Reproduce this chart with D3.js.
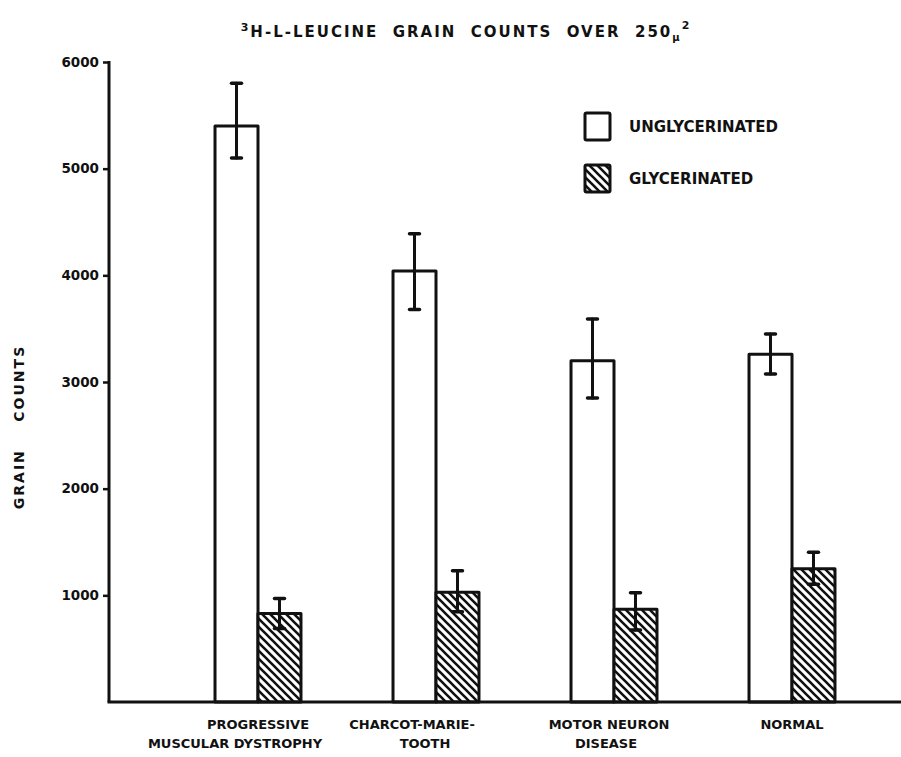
<!DOCTYPE html>
<html>
<head>
<meta charset="utf-8">
<script src="https://cdn.jsdelivr.net/npm/d3@7"></script>
<style>
  html, body { margin: 0; padding: 0; background: #fff; }
  svg { display: block; }
  text { font-family: "DejaVu Sans", sans-serif; font-weight: bold; fill: #111; }
</style>
</head>
<body>
<svg id="chart" width="901" height="757"></svg>
<script>
// Leucine grain counts by diagnosis, with and without glycerination
const categories = ["PMD", "CMT", "MND", "NORMAL"];
const categoryLines = [
  ["PROGRESSIVE", "MUSCULAR DYSTROPHY"],
  ["CHARCOT-MARIE-", "TOOTH"],
  ["MOTOR NEURON", "DISEASE"],
  ["NORMAL"]
];
const series = ["UNGLYCERINATED", "GLYCERINATED"];
const unglycerinated = [5400, 4040, 3200, 3260];
const unglycerinatedHigh = [5800, 4390, 3590, 3450];
const unglycerinatedLow = [5100, 3680, 2850, 3075];
const glycerinated = [830, 1030, 870, 1250];
const glycerinatedHigh = [970, 1230, 1025, 1405];
const glycerinatedLow = [690, 845, 675, 1105];
const yTicks = [1000, 2000, 3000, 4000, 5000, 6000];

const rows = [];
categories.forEach((c, i) => {
  rows.push({cat: c, s: series[0], v: unglycerinated[i], hi: unglycerinatedHigh[i], lo: unglycerinatedLow[i]});
  rows.push({cat: c, s: series[1], v: glycerinated[i], hi: glycerinatedHigh[i], lo: glycerinatedLow[i]});
});

const svg = d3.select("#chart");
const axisX = 109, baseY = 702, topY = 62;

const y = d3.scaleLinear().domain([0, 6000]).range([baseY, topY]);
const x0 = d3.scaleBand().domain(categories).range([169, 881])
  .paddingInner(0.517).paddingOuter(0.2585);
const x1 = d3.scaleBand().domain(series).range([0, x0.bandwidth()]);

// diagonal hatch for glycerinated bars
const defs = svg.append("defs");
const pat = defs.append("pattern").attr("id", "hatch")
  .attr("patternUnits", "userSpaceOnUse").attr("width", 8).attr("height", 8);
pat.append("rect").attr("width", 8).attr("height", 8).attr("fill", "#fff");
pat.append("path").attr("d", "M-2,-2 L10,10 M-2,6 L2,10 M6,-2 L10,2")
  .attr("stroke", "#111").attr("stroke-width", 2.6);

const fillFor = s => s === series[0] ? "#fff" : "url(#hatch)";

// bars
svg.append("g").selectAll("rect").data(rows).join("rect")
  .attr("x", d => x0(d.cat) + x1(d.s))
  .attr("y", d => y(d.v))
  .attr("width", x1.bandwidth())
  .attr("height", d => y(0) - y(d.v))
  .attr("fill", d => fillFor(d.s))
  .attr("stroke", "#111").attr("stroke-width", 3)
  .attr("stroke-linejoin", "round");

// error bars
const eb = svg.append("g").attr("stroke", "#111").attr("stroke-linecap", "round");
rows.forEach(d => {
  const cx = x0(d.cat) + x1(d.s) + x1.bandwidth() / 2;
  eb.append("line").attr("x1", cx).attr("x2", cx).attr("y1", y(d.hi)).attr("y2", y(d.lo)).attr("stroke-width", 3);
  [d.hi, d.lo].forEach(v => {
    eb.append("line").attr("x1", cx - 5).attr("x2", cx + 5).attr("y1", y(v)).attr("y2", y(v)).attr("stroke-width", 3.5);
  });
});

// y axis
const yAxis = d3.axisLeft(y).tickValues(yTicks).tickFormat(d3.format("d"))
  .tickSize(6).tickSizeOuter(0).tickPadding(4);
const ga = svg.append("g").attr("transform", `translate(${axisX},0)`).call(yAxis);
ga.select(".domain").remove();
ga.selectAll(".tick line").attr("stroke", "#111").attr("stroke-width", 2.5);
ga.selectAll(".tick text").attr("font-size", 13.5).attr("font-family", "DejaVu Sans").attr("font-weight", "bold").attr("fill", "#111");
svg.append("line").attr("x1", axisX).attr("x2", axisX).attr("y1", topY - 1).attr("y2", baseY)
  .attr("stroke", "#111").attr("stroke-width", 3);

// x axis baseline
svg.append("line").attr("x1", axisX - 1.5).attr("x2", 901).attr("y1", baseY).attr("y2", baseY)
  .attr("stroke", "#111").attr("stroke-width", 3);

// category labels; hand-set nudges keep the typeset lines where the layout places them
const labelNudge = [[0, -23], [-24, -11], [-5, -8], [0]];
categories.forEach((c, i) => {
  const cx = x0(c) + x0.bandwidth() / 2;
  const t = svg.append("text").attr("text-anchor", "middle").attr("font-size", 13)
    .attr("x", cx).attr("y", 729);
  categoryLines[i].forEach((line, j) => {
    t.append("tspan").attr("x", cx + labelNudge[i][j]).attr("dy", j === 0 ? 0 : 19).text(line);
  });
});

// y axis title
svg.append("text").attr("text-anchor", "middle").attr("font-size", 14)
  .attr("letter-spacing", 2).attr("xml:space", "preserve")
  .attr("transform", "translate(24,427) rotate(-90)")
  .text("GRAIN    COUNTS");

// title
const title = svg.append("text").attr("x", 466).attr("y", 37).attr("text-anchor", "middle")
  .attr("font-size", 15).attr("letter-spacing", 2).attr("xml:space", "preserve");
title.append("tspan").attr("font-size", 11).attr("dy", -6).text("3");
title.append("tspan").attr("dy", 6).text("H-L-LEUCINE  GRAIN  COUNTS  OVER  250");
title.append("tspan").attr("font-size", 10).attr("dy", 4).text("\u03bc");
title.append("tspan").attr("font-size", 11).attr("dy", -12).text("2");

// legend
const legend = svg.append("g");
series.forEach((s, i) => {
  const ly = 113 + i * 52;
  legend.append("rect").attr("x", 585).attr("y", ly).attr("width", 25).attr("height", 27)
    .attr("fill", fillFor(s)).attr("stroke", "#111").attr("stroke-width", 3).attr("rx", 1.5);
  legend.append("text").attr("x", 629).attr("y", ly + 19).attr("font-size", 15).text(s);
});
</script>
</body>
</html>
